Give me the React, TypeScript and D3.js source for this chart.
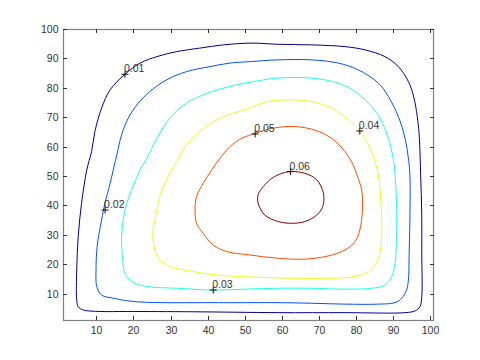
import React from 'react';
import { scaleLinear, line, curveCatmullRomClosed } from 'd3';

// contour levels and their jet colours
const levels = [0.01, 0.02, 0.03, 0.04, 0.05, 0.06];
const levelColors = ['#00008f', '#0050ff', '#1affe6', '#e6ff1a', '#ff4c00', '#800000'];

// contour paths, [x, y] in data units
const c01 = [
  [4.7, 7.8], [4.7, 18.0], [5.1, 29.4], [6.0, 40.7], [7.4, 52.0], [8.7, 58.3], [9.6, 65.1],
  [11.4, 73.1], [13.7, 79.3], [17.7, 84.6], [21.8, 88.4], [26.3, 90.6], [31.6, 92.3],
  [37.9, 93.5], [44.2, 94.6], [51.4, 95.2], [59.0, 94.8], [68.0, 94.6], [77.0, 94.0],
  [82.4, 92.9], [87.8, 90.6], [91.4, 87.2], [94.1, 82.1], [95.4, 77.6], [96.3, 71.9],
  [97.0, 64.0], [97.4, 50.4], [97.7, 37.0], [97.7, 23.7], [97.7, 8.9], [97.2, 5.5], [95.9, 4.1],
  [93.2, 3.5], [77.0, 3.5], [59.0, 3.5], [36.1, 3.8], [18.2, 3.9], [11.0, 3.9], [6.5, 4.4],
  [5.1, 5.5],
];
const c02 = [
  [9.9, 18.0], [10.2, 26.0], [11.4, 35.0], [12.3, 40.7], [13.7, 47.5], [15.5, 57.2],
  [16.8, 64.0], [18.6, 69.7], [21.3, 74.8], [24.4, 78.7], [28.9, 82.7], [34.3, 85.5],
  [40.6, 87.2], [46.0, 88.4], [51.4, 88.9], [59.0, 89.5], [68.0, 89.5], [75.2, 88.4],
  [80.6, 86.1], [86.0, 81.6], [88.7, 77.0], [91.4, 70.2], [93.2, 62.8], [94.1, 56.0],
  [94.5, 50.4], [94.5, 35.0], [94.3, 23.7], [94.1, 14.6], [93.6, 11.2], [92.3, 8.4],
  [90.5, 6.9], [86.0, 6.4], [77.0, 6.4], [68.0, 6.7], [59.0, 6.9], [51.4, 6.9], [41.5, 6.9],
  [20.9, 7.2], [14.6, 8.4], [11.4, 9.5], [10.1, 12.4],
];
const c03 = [
  [17.1, 21.4], [16.8, 29.4], [17.7, 38.4], [19.5, 45.3], [21.8, 52.1], [23.6, 56.0],
  [26.3, 62.8], [29.8, 69.7], [34.3, 74.8], [38.8, 77.6], [44.2, 79.9], [51.4, 81.9],
  [59.0, 83.3], [68.0, 83.3], [75.2, 81.6], [79.7, 78.7], [83.3, 74.8], [86.4, 69.7],
  [88.7, 62.8], [90.0, 56.0], [90.5, 50.4], [90.9, 40.7], [90.9, 29.4], [90.5, 20.3],
  [89.6, 15.8], [87.8, 12.9], [84.2, 11.8], [77.0, 11.5], [68.0, 11.8], [59.0, 11.8],
  [50.1, 11.5], [41.5, 11.2], [31.6, 11.8], [23.6, 12.4], [19.5, 14.1], [17.7, 16.9],
];
const c04 = [
  [25.2, 29.4], [25.8, 35.0], [27.1, 43.0], [28.9, 48.7], [31.6, 54.9], [34.3, 60.6],
  [37.9, 65.1], [42.4, 69.1], [46.9, 71.4], [51.4, 73.1], [55.4, 75.1], [61.7, 75.9],
  [68.0, 75.3], [73.4, 73.1], [77.9, 69.1], [81.0, 65.3], [83.3, 60.6], [85.1, 54.9],
  [86.0, 50.4], [86.7, 40.7], [86.9, 29.4], [86.4, 23.7], [85.1, 19.7], [83.3, 17.5],
  [79.7, 15.8], [72.5, 15.2], [63.5, 15.2], [54.6, 15.5], [42.4, 16.3], [36.1, 17.5],
  [29.8, 19.2], [26.7, 22.0],
];
const c05 = [
  [36.6, 38.4], [37.0, 43.0], [38.8, 47.5], [41.1, 52.1], [43.3, 56.0], [46.0, 60.0],
  [49.2, 62.8], [52.8, 64.5], [57.3, 66.2], [63.5, 66.8], [68.9, 65.6], [73.4, 62.8],
  [77.0, 58.3], [79.2, 53.8], [80.2, 50.4], [81.5, 45.3], [81.7, 38.4], [81.0, 31.6],
  [79.7, 27.7], [77.0, 24.8], [72.5, 22.8], [66.2, 21.7], [59.0, 22.0], [51.4, 23.1],
  [45.1, 24.3], [41.5, 26.5], [38.8, 30.5], [37.0, 33.9],
];
const c06 = [
  [62.6, 51.5], [66.2, 50.9], [69.4, 48.7], [71.2, 44.1], [71.0, 39.6], [69.4, 36.7],
  [66.2, 34.5], [62.6, 33.9], [59.0, 34.5], [55.4, 36.7], [53.6, 40.7], [53.6, 43.6],
  [55.0, 46.4], [57.3, 49.2], [60.0, 50.9],
];
const contours = [c01, c02, c03, c04, c05, c06];

// clabel positions, [x, y] in data units
const labelPoints = [
  [17.7, 84.6], [12.35, 38.4], [41.5, 11.2], [81.0, 65.3], [52.8, 64.3], [62.3, 51.5],
];

const xTicks = [10, 20, 30, 40, 50, 60, 70, 80, 90, 100];
const yTicks = [10, 20, 30, 40, 50, 60, 70, 80, 90, 100];

const W = 480, H = 360;
const left = 63, right = 434, top = 29, bottom = 320;
const font = '"Liberation Sans", Arial, Helvetica, sans-serif';

export default function App() {
  const x = scaleLinear().domain([1, 101]).range([left, right]);
  const y = scaleLinear().domain([1, 100]).range([bottom, top]);

  const path = line<number[]>()
    .x(d => x(d[0]))
    .y(d => y(d[1]))
    .curve(curveCatmullRomClosed.alpha(0.5));

  const boxColor = '#808080';
  const tickColor = '#333';
  const tickLen = 4;

  return (
    <div style={{ position: 'absolute', left: 0, top: 0, width: W, height: H, background: '#fff' }}>
      <svg width={W} height={H} style={{ display: 'block' }}>
        <rect width={W} height={H} fill="#fff" />

        {contours.map((c, i) => (
          <path key={'c' + i} d={path(c) || ''} fill="none" stroke={levelColors[i]} strokeWidth={1} />
        ))}

        {/* box */}
        <rect x={left + 0.5} y={top + 0.5} width={right - left - 1} height={bottom - top}
          fill="none" stroke={boxColor} strokeWidth={1.2} />

        {xTicks.map(t => {
          const px = Math.round(x(t)) + 0.5;
          return (
            <g key={'xt' + t}>
              <line x1={px} x2={px} y1={bottom} y2={bottom - tickLen} stroke={tickColor} />
              <line x1={px} x2={px} y1={top} y2={top + tickLen} stroke={tickColor} />
              <text x={px} y={334} textAnchor="middle" fontFamily={font} fontSize={10.5} fill="#333">{t}</text>
            </g>
          );
        })}
        {yTicks.map(t => {
          const py = Math.round(y(t)) + 0.5;
          return (
            <g key={'yt' + t}>
              <line x1={left} x2={left + tickLen} y1={py} y2={py} stroke={tickColor} />
              <line x1={right} x2={right - tickLen} y1={py} y2={py} stroke={tickColor} />
              <text x={58.5} y={py + 3.8} textAnchor="end" fontFamily={font} fontSize={10.5} fill="#333">{t}</text>
            </g>
          );
        })}

        {labelPoints.map((p, i) => {
          const px = x(p[0]), py = y(p[1]);
          return (
            <g key={'lb' + i}>
              <path d={`M${px - 3.5},${py}H${px + 3.5}M${px},${py - 3.5}V${py + 3.5}`} stroke="#111" strokeWidth={1} />
              <text x={px - 1} y={py - 2} fontFamily={font} fontSize={10.5} fill="#333">{levels[i].toFixed(2)}</text>
            </g>
          );
        })}
      </svg>
    </div>
  );
}
